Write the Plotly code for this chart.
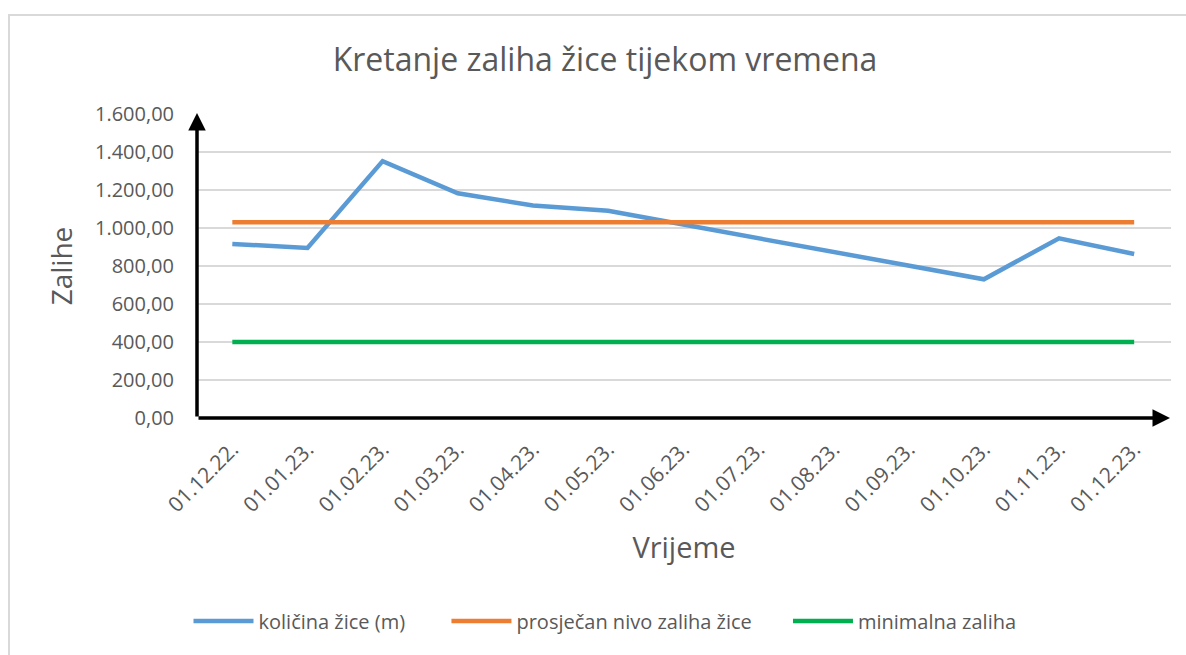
import plotly.graph_objects as go

categories = ["01.12.22.", "01.01.23.", "01.02.23.", "01.03.23.", "01.04.23.", "01.05.23.",
              "01.06.23.", "01.07.23.", "01.08.23.", "01.09.23.", "01.10.23.", "01.11.23.", "01.12.23."]
kolicina = [916, 895, 1352, 1183, 1118, 1091, 1018, 945, 873, 800, 730, 946, 863]
prosjek = [1030] * 13
minimalna = [400] * 13
y_ticks = [0, 200, 400, 600, 800, 1000, 1200, 1400, 1600]
y_tick_labels = ["0,00", "200,00", "400,00", "600,00", "800,00", "1.000,00", "1.200,00", "1.400,00", "1.600,00"]
series_names = ["količina žice (m)", "prosječan nivo zaliha žice", "minimalna zaliha"]

W, H = 1186, 655
L, R, T, B = 197, 15, 114, 237
pw, ph = W - L - R, H - T - B

def px(x):
    return (x - L) / pw

def py(y):
    return (H - B - y) / ph

font_family = "Open Sans, Noto Sans, sans-serif"
grey = "#595959"
pad = "\u00a0"

fig = go.Figure()
fig.add_trace(go.Scatter(x=categories, y=kolicina, mode="lines", name=series_names[0] + pad * 7,
                         line=dict(color="#5B9BD5", width=4.5)))
fig.add_trace(go.Scatter(x=categories, y=prosjek, mode="lines", name=series_names[1] + pad * 6,
                         line=dict(color="#ED7D31", width=4.5)))
fig.add_trace(go.Scatter(x=categories, y=minimalna, mode="lines", name=series_names[2],
                         line=dict(color="#00B050", width=4.5)))

fig.update_layout(
    width=W, height=H,
    margin=dict(l=L, r=R, t=T, b=B),
    paper_bgcolor="white", plot_bgcolor="white",
    font=dict(family=font_family, color=grey),
    title=dict(text="Kretanje zaliha žice tijekom vremena", x=605 / W, xanchor="center",
               y=1 - 60 / H, yanchor="middle", font=dict(size=32, color=grey)),
    showlegend=True,
    legend=dict(orientation="h", x=px(605), xanchor="center", y=py(621), yanchor="middle",
                font=dict(size=20, color=grey), itemwidth=60, tracegroupgap=0),
    xaxis=dict(type="category", range=[-0.47, 12.49], showgrid=False, showline=False,
               ticks="", tickangle=-45, tickfont=dict(size=21, color=grey), ticklabelstandoff=14,
               title=dict(text="Vrijeme", font=dict(size=29, color=grey), standoff=20),
               zeroline=False, fixedrange=True),
    yaxis=dict(range=[0, 1600], tickvals=y_ticks, ticktext=y_tick_labels,
               showgrid=True, gridcolor="#D9D9D9", gridwidth=1.5, showline=False, ticks="",
               tickfont=dict(size=20, color=grey), ticklabelstandoff=22,
               title=dict(text="Zalihe", font=dict(size=28, color=grey), standoff=14),
               zeroline=False, fixedrange=True),
)

# outer chart border (left and top visible)
fig.add_shape(type="rect", xref="paper", yref="paper",
              x0=px(9), x1=px(1300), y0=py(800), y1=py(15),
              line=dict(color="#D9D9D9", width=2), fillcolor="rgba(0,0,0,0)", layer="below")

# axis arrows
fig.add_annotation(xref="paper", yref="paper", x=px(1170), y=0, axref="pixel", ayref="pixel",
                   ax=-(1170 - L), ay=0, showarrow=True, arrowhead=2, arrowsize=1,
                   arrowwidth=3.5, arrowcolor="black", text="")
fig.add_annotation(xref="paper", yref="paper", x=0, y=py(113), axref="pixel", ayref="pixel",
                   ax=0, ay=(H - B - 113), showarrow=True, arrowhead=2, arrowsize=1,
                   arrowwidth=3.5, arrowcolor="black", text="")

fig.write_html("out.html", config={"displayModeBar": False},
               post_script="document.body.style.margin='0';document.body.style.overflow='hidden';")
